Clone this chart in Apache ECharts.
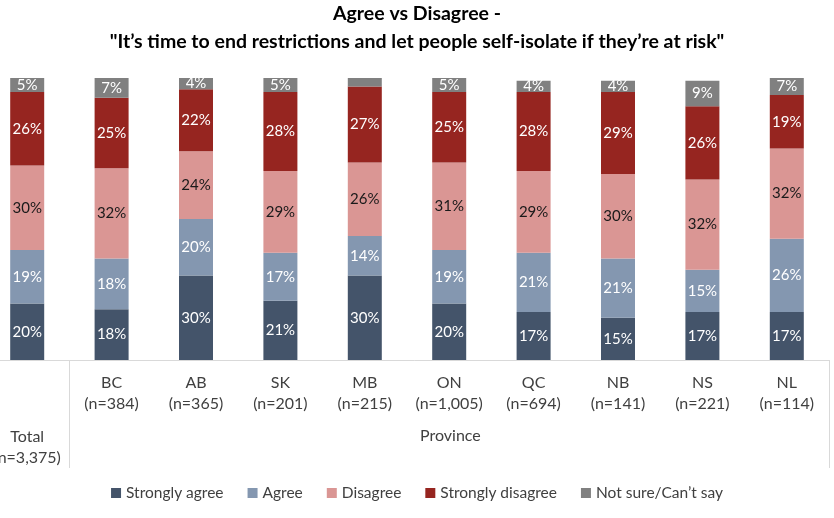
<!DOCTYPE html>
<html>
<head>
<meta charset="utf-8">
<script src="https://cdn.jsdelivr.net/npm/echarts@6/dist/echarts.min.js"></script>
<style>
  html, body { margin: 0; padding: 0; background: #fff; }
  #chart { width: 834px; height: 518px; }
</style>
</head>
<body>
<div id="chart"></div>
<script>
const categories = ['Total', 'BC', 'AB', 'SK', 'MB', 'ON', 'QC', 'NB', 'NS', 'NL']
const sampleSizes = ['3,375', '384', '365', '201', '215', '1,005', '694', '141', '221', '114']

const stronglyAgree = [20, 18, 30, 21, 30, 20, 17, 15, 17, 17]
const agree = [19, 18, 20, 17, 14, 19, 21, 21, 15, 26]
const disagree = [30, 32, 24, 29, 26, 31, 29, 30, 32, 32]
const stronglyDisagree = [26, 25, 22, 28, 27, 25, 28, 29, 26, 19]
const notSure = [5, 7, 4, 5, 3, 5, 4, 4, 9, 7]

const FONT = 'Lato'

const seriesDefs = [
  { name: 'Strongly agree', data: stronglyAgree, color: '#44546A', text: '#fff' },
  { name: 'Agree', data: agree, color: '#8497B0', text: '#fff' },
  { name: 'Disagree', data: disagree, color: '#DA9694', text: '#1a1a1a' },
  { name: 'Strongly disagree', data: stronglyDisagree, color: '#962520', text: '#fff' },
  { name: 'Not sure/Can\u2019t say', data: notSure, color: '#808080', text: '#fff' },
]

const chart = echarts.init(document.getElementById('chart'))

const option = {
  animation: false,
  textStyle: { fontFamily: FONT },
  title: {
    text: 'Agree vs Disagree -\n"It\u2019s time to end restrictions and let people self-isolate if they\u2019re at risk"',
    left: 'center',
    top: 0,
    padding: [0, 14, 0, 0],
    textStyle: {
      fontFamily: FONT,
      fontSize: 19.5,
      fontWeight: 'bold',
      color: '#000',
      lineHeight: 28,
    },
  },
  legend: {
    bottom: 12,
    left: 'center',
    itemWidth: 10,
    itemHeight: 10,
    itemGap: 24,
    icon: 'rect',
    textStyle: { fontFamily: FONT, fontSize: 15.5, color: '#404040' },
    data: seriesDefs.map(s => s.name),
  },
  grid: {
    left: -15,
    right: 5,
    top: 78,
    bottom: 158,
    outerBoundsMode: 'none',
    containLabel: false,
  },
  xAxis: {
    type: 'category',
    data: categories,
    axisLine: { lineStyle: { color: '#D9D9D9', width: 1 } },
    axisTick: {
      show: true,
      length: 108,
      // only the boundary between Total and the provinces, plus the far end
      interval: (index) => index <= 1,
      lineStyle: { color: '#D9D9D9' },
    },
    axisLabel: {
      interval: 0,
      margin: 12,
      fontFamily: FONT,
      fontSize: 16,
      lineHeight: 21,
      color: '#404040',
      hideOverlap: false,
      formatter: (value, index) => {
        const label = value + '\n(n=' + sampleSizes[index] + ')'
        return index === 0 ? '{g| }\n' + label : label
      },
      rich: {
        g: { lineHeight: 54, fontSize: 16 },
      },
    },
  },
  yAxis: {
    type: 'value',
    min: 0,
    max: 100,
    show: false,
    splitLine: { show: false },
  },
  graphic: [
    {
      type: 'text',
      left: 420,
      top: 428,
      style: { text: 'Province', fontFamily: FONT, fontSize: 16, fill: '#404040' },
    },
  ],
  series: seriesDefs.map(s => ({
    name: s.name,
    type: 'bar',
    stack: 'total',
    barWidth: 34,
    data: s.data,
    itemStyle: { color: s.color },
    label: {
      show: true,
      position: 'inside',
      fontFamily: FONT,
      fontSize: 15,
      color: s.text,
      formatter: (p) => (p.value >= 4 ? p.value + '%' : ''),
    },
  })),
}

chart.setOption(option)
</script>
</body>
</html>
